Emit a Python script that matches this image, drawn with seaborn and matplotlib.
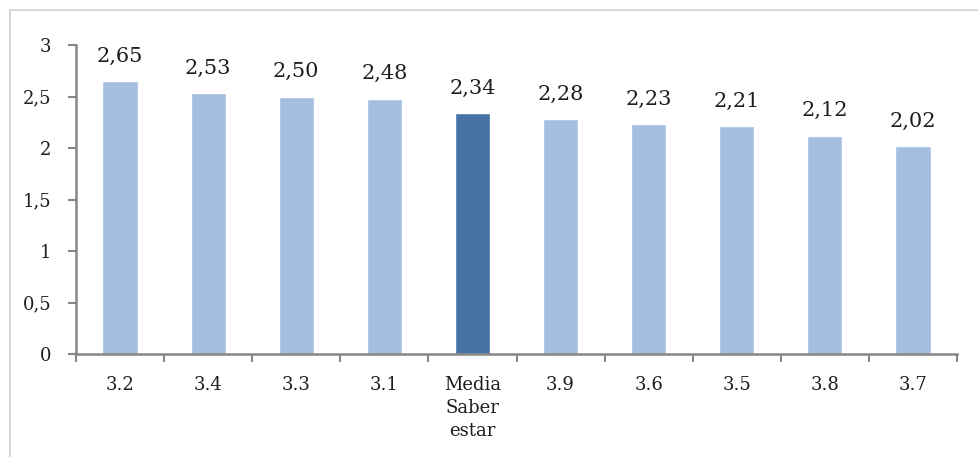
import matplotlib
matplotlib.use("Agg")
import matplotlib.pyplot as plt
from matplotlib.lines import Line2D
import seaborn as sns
import pandas as pd

categories = ["3.2", "3.4", "3.3", "3.1", "Media\nSaber\nestar", "3.9", "3.6", "3.5", "3.8", "3.7"]
values = [2.65, 2.53, 2.50, 2.48, 2.34, 2.28, 2.23, 2.21, 2.12, 2.02]
value_labels = ["2,65", "2,53", "2,50", "2,48", "2,34", "2,28", "2,23", "2,21", "2,12", "2,02"]
y_ticks = [0, 0.5, 1, 1.5, 2, 2.5, 3]
y_tick_labels = ["0", "0,5", "1", "1,5", "2", "2,5", "3"]
highlight = "Media\nSaber\nestar"

light = "#A3BEDE"
dark = "#4372A3"
axis_grey = "#868686"
text_col = "#1E1E1E"

sns.set_theme(style="white")
plt.rcParams["font.family"] = ["DejaVu Serif"]

df = pd.DataFrame({"cat": categories, "val": values})
palette = {c: (dark if c == highlight else light) for c in categories}

fig = plt.figure(figsize=(9.79, 4.57), dpi=100)
ax = fig.add_axes([76 / 979, 1 - 354 / 457, (957 - 76) / 979, (354 - 45) / 457])

sns.barplot(data=df, x="cat", y="val", hue="cat", palette=palette, order=categories,
            width=0.4, saturation=1, legend=False, ax=ax)

ax.set_xlim(-0.5, len(categories) - 0.5)
ax.set_ylim(0, 3)
ax.set_yticks(y_ticks)
ax.set_yticklabels(y_tick_labels, fontsize=13, color=text_col)
ax.set_xticks(range(len(categories)))
ax.set_xticklabels(categories, fontsize=13, color=text_col, linespacing=1.35,
                   va="top")
ax.set_xlabel("")
ax.set_ylabel("")

# Category boundary ticks on the x axis
ax.set_xticks([i - 0.5 for i in range(len(categories) + 1)], minor=True)
ax.tick_params(axis="x", which="major", bottom=True, length=0, pad=16)
ax.tick_params(axis="x", which="minor", bottom=True, length=6, width=1.5,
               color=axis_grey, direction="out")
ax.tick_params(axis="y", which="major", left=True, length=6, width=1.5,
               color=axis_grey, direction="out", pad=12)

for side in ["top", "right"]:
    ax.spines[side].set_visible(False)
for side in ["left", "bottom"]:
    ax.spines[side].set_color(axis_grey)
    ax.spines[side].set_linewidth(1.8)

for i, (v, lab) in enumerate(zip(values, value_labels)):
    ax.annotate(lab, (i, v), xytext=(0, 11), textcoords="offset points",
                ha="center", va="bottom", fontsize=15, color=text_col)

# Outer chart frame (top and left edges)
fig.add_artist(Line2D([10 / 979, 10 / 979], [0, 1 - 10 / 457], transform=fig.transFigure,
                      color="#D0D0D0", lw=1.2))
fig.add_artist(Line2D([10 / 979, 1], [1 - 10 / 457, 1 - 10 / 457], transform=fig.transFigure,
                      color="#D0D0D0", lw=1.2))

fig.savefig("out.png", dpi=100)
